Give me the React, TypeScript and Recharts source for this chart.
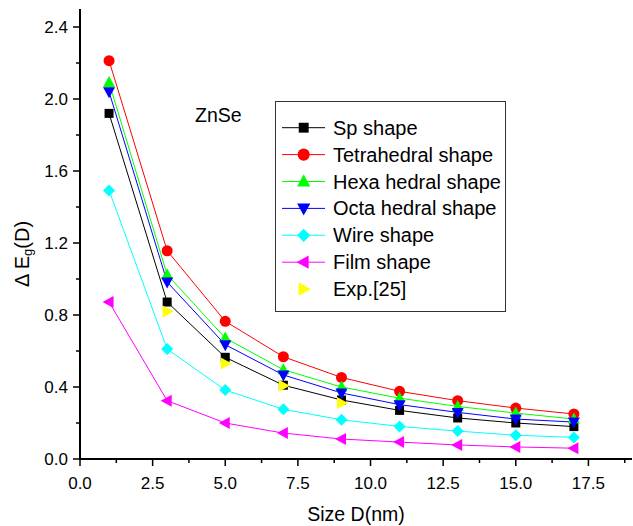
import React from "react";
import { LineChart, Line, XAxis, YAxis, Legend } from "recharts";

// particle sizes (nm)
const SIZES = [1, 3, 5, 7, 9, 11, 13, 15, 17];

// band gap shift per shape
const SP = [1.92, 0.872, 0.565, 0.41, 0.328, 0.27, 0.228, 0.2, 0.18];
const TETRA = [2.213, 1.157, 0.765, 0.568, 0.453, 0.376, 0.324, 0.283, 0.25];
const HEXA = [2.092, 1.024, 0.672, 0.496, 0.4, 0.338, 0.292, 0.255, 0.222];
const OCTA = [2.04, 0.983, 0.635, 0.467, 0.367, 0.302, 0.259, 0.222, 0.205];
const WIRE = [1.492, 0.611, 0.383, 0.276, 0.218, 0.181, 0.155, 0.132, 0.12];
const FILM = [0.872, 0.324, 0.2, 0.144, 0.111, 0.094, 0.078, 0.067, 0.06];
const EXP = [null, 0.82, 0.53, 0.407, 0.311, null, null, null, null];

const X_TICKS = [0, 1.25, 2.5, 3.75, 5, 6.25, 7.5, 8.75, 10, 11.25, 12.5, 13.75, 15, 16.25, 17.5, 18.75];
const X_MAJOR = [0, 2.5, 5, 7.5, 10, 12.5, 15, 17.5];
const Y_TICKS = [0, 0.2, 0.4, 0.6, 0.8, 1.0, 1.2, 1.4, 1.6, 1.8, 2.0, 2.2, 2.4];
const Y_MAJOR = [0, 0.4, 0.8, 1.2, 1.6, 2.0, 2.4];

const FONT = '"Liberation Sans", Arial, sans-serif';

type Shape = "square" | "circle" | "up" | "down" | "diamond" | "left" | "right";

const SERIES: { key: string; name: string; color: string; shape: Shape; line: boolean }[] = [
  { key: "sp", name: "Sp shape", color: "#000000", shape: "square", line: true },
  { key: "tetra", name: "Tetrahedral shape", color: "#ff0000", shape: "circle", line: true },
  { key: "hexa", name: "Hexa hedral shape", color: "#00ff00", shape: "up", line: true },
  { key: "octa", name: "Octa hedral shape", color: "#0000ff", shape: "down", line: true },
  { key: "wire", name: "Wire shape", color: "#00ffff", shape: "diamond", line: true },
  { key: "film", name: "Film shape", color: "#ff00ff", shape: "left", line: true },
  { key: "exp", name: "Exp.[25]", color: "#ffff00", shape: "right", line: false },
];

const data = SIZES.map((size, i) => ({
  size,
  sp: SP[i],
  tetra: TETRA[i],
  hexa: HEXA[i],
  octa: OCTA[i],
  wire: WIRE[i],
  film: FILM[i],
  exp: EXP[i],
}));

function marker(shape: Shape, cx: number, cy: number, color: string, s: number, key?: string) {
  switch (shape) {
    case "square":
      return <rect key={key} x={cx - 4.5 * s} y={cy - 4.5 * s} width={9 * s} height={9 * s} fill={color} />;
    case "circle":
      return <circle key={key} cx={cx} cy={cy} r={5.5 * s} fill={color} />;
    case "up":
      return (
        <polygon
          key={key}
          points={`${cx},${cy - 6.5 * s} ${cx - 6 * s},${cy + 4.5 * s} ${cx + 6 * s},${cy + 4.5 * s}`}
          fill={color}
        />
      );
    case "down":
      return (
        <polygon
          key={key}
          points={`${cx},${cy + 6.5 * s} ${cx - 6 * s},${cy - 4.5 * s} ${cx + 6 * s},${cy - 4.5 * s}`}
          fill={color}
        />
      );
    case "diamond":
      return (
        <polygon
          key={key}
          points={`${cx},${cy - 6 * s} ${cx + 6 * s},${cy} ${cx},${cy + 6 * s} ${cx - 6 * s},${cy}`}
          fill={color}
        />
      );
    case "left":
      return (
        <polygon
          key={key}
          points={`${cx - 6.5 * s},${cy} ${cx + 4.5 * s},${cy - 6 * s} ${cx + 4.5 * s},${cy + 6 * s}`}
          fill={color}
        />
      );
    case "right":
      return (
        <polygon
          key={key}
          points={`${cx + 6.5 * s},${cy} ${cx - 4.5 * s},${cy - 6 * s} ${cx - 4.5 * s},${cy + 6 * s}`}
          fill={color}
        />
      );
  }
}

function XTick(props: any) {
  const { x, y, payload } = props;
  const major = X_MAJOR.some((m) => Math.abs(m - payload.value) < 1e-6);
  return (
    <g>
      <line x1={x} x2={x} y1={y} y2={y + (major ? 7 : 4)} stroke="#000" strokeWidth={1.5} />
      {major && (
        <text x={x} y={y + 24} textAnchor="middle" dominantBaseline="central" fontSize={17} fontFamily={FONT} fill="#000">
          {payload.value.toFixed(1)}
        </text>
      )}
    </g>
  );
}

function YTick(props: any) {
  const { x, y, payload } = props;
  const major = Y_MAJOR.some((m) => Math.abs(m - payload.value) < 1e-6);
  return (
    <g>
      <line x1={x - (major ? 7 : 4)} x2={x} y1={y} y2={y} stroke="#000" strokeWidth={1.5} />
      {major && (
        <text x={x - 12} y={y} textAnchor="end" dominantBaseline="central" fontSize={17} fontFamily={FONT} fill="#000">
          {payload.value.toFixed(1)}
        </text>
      )}
    </g>
  );
}

function LegendBox() {
  return (
    <svg width={231} height={211} style={{ display: "block" }}>
      <rect x={0.5} y={0.5} width={230} height={210} fill="#fff" stroke="#333" strokeWidth={1} />
      {SERIES.map((s, i) => {
        const cy = 26.7 + i * 26.9;
        return (
          <g key={s.key}>
            {s.line && <line x1={7} x2={50} y1={cy} y2={cy} stroke={s.color} strokeWidth={1} />}
            {marker(s.shape, 28.7, cy, s.color, 1.1)}
            <text x={58} y={cy} dominantBaseline="central" fontSize={20} fontFamily={FONT} fill="#000">
              {s.name}
            </text>
          </g>
        );
      })}
    </svg>
  );
}

export default function App() {
  return (
    <div style={{ position: "absolute", left: 0, top: 0, width: 633, height: 526, background: "#fff" }}>
      <LineChart width={633} height={526} data={data} margin={{ top: 9, right: 1, left: 0, bottom: 0 }}>
        <XAxis
          dataKey="size"
          type="number"
          domain={[0, 19]}
          ticks={X_TICKS}
          interval={0}
          allowDataOverflow
          height={67}
          tickSize={0}
          tickMargin={0}
          tickLine={false}
          axisLine={{ stroke: "#000", strokeWidth: 2 }}
          tick={<XTick />}
          label={{
            content: (p: any) => {
              const vb = p.viewBox;
              return (
                <text
                  x={vb.x + vb.width / 2}
                  y={vb.y + 62}
                  textAnchor="middle"
                  fontSize={19.5}
                  fontFamily={FONT}
                  fill="#000"
                >
                  Size D(nm)
                </text>
              );
            },
          }}
        />
        <YAxis
          type="number"
          domain={[0, 2.5]}
          ticks={Y_TICKS}
          interval={0}
          allowDataOverflow
          width={80}
          tickSize={0}
          tickMargin={0}
          tickLine={false}
          axisLine={{ stroke: "#000", strokeWidth: 2 }}
          tick={<YTick />}
          label={{
            content: (p: any) => {
              const vb = p.viewBox;
              const cx = 22;
              const cy = vb.y + 245;
              return (
                <text
                  x={cx}
                  y={cy}
                  transform={`rotate(-90 ${cx} ${cy})`}
                  textAnchor="middle"
                  dominantBaseline="central"
                  fontSize={20}
                  fontFamily={FONT}
                  fill="#000"
                >
                  Δ E
                  <tspan fontSize={13} dy={5}>
                    g
                  </tspan>
                  <tspan dy={-5}>(D)</tspan>
                </text>
              );
            },
          }}
        />
        <Legend
          layout="vertical"
          align="center"
          verticalAlign="middle"
          wrapperStyle={{ left: 275, top: 101, width: 231, height: 211 }}
          content={() => <LegendBox />}
        />
        {SERIES.map((s) => (
          <Line
            key={s.key}
            dataKey={s.key}
            name={s.name}
            type="linear"
            stroke={s.line ? s.color : "none"}
            strokeWidth={1}
            connectNulls={false}
            isAnimationActive={false}
            activeDot={false}
            dot={(props: any) => {
              const { cx, cy, value, index } = props;
              const k = `${s.key}-${index}`;
              if (value === null || value === undefined || cx == null || cy == null) return <g key={k} />;
              return marker(s.shape, cx, cy, s.color, 1, k) as any;
            }}
          />
        ))}
      </LineChart>
      <div
        style={{
          position: "absolute",
          left: 195,
          top: 106,
          fontFamily: FONT,
          fontSize: 19.5,
          lineHeight: "19px",
          color: "#000",
        }}
      >
        ZnSe
      </div>
    </div>
  );
}
